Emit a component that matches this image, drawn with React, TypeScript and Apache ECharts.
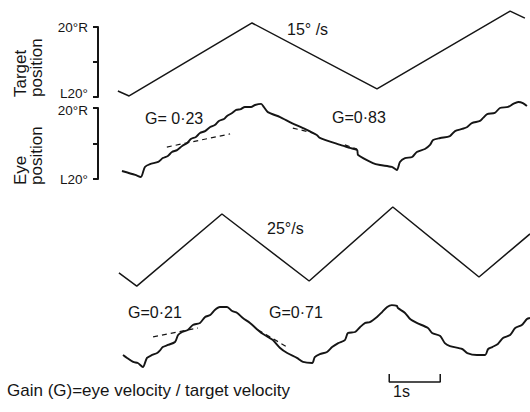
import React, { useEffect, useRef } from "react";
import * as echarts from "echarts";

// time axis (seconds) and degree scale
const X_MAX = 8.47;
const Y_TICKS: Record<string, string> = { "20": "20°R", "0": "", "-20": "L20°" };

// Target position, 15°/s
const TARGET15_T = [0.39, 0.61, 3.02, 5.47, 8.08, 8.37];
const TARGET15_DEG = [-16.6, -19.4, 22.3, -15.4, 29.1, 25.1];

// Eye position, 15°/s
const EYE15_T = [
  0.47, 0.73, 0.84, 0.92, 1.02, 1.18, 1.27, 1.37, 1.45, 1.55, 1.65, 1.75, 1.82, 1.92, 2.0, 2.1, 2.2,
  2.29, 2.37, 2.47, 2.53, 2.63, 2.71, 2.8, 2.88, 3.0, 3.08, 3.2, 3.25, 3.33, 3.57, 3.8, 4.02, 4.29,
  4.35, 4.75, 4.94, 5.08, 5.1, 5.39, 5.53, 5.76, 5.86, 5.92, 6.02, 6.16, 6.25, 6.41, 6.51, 6.57,
  6.71, 6.9, 7.0, 7.14, 7.24, 7.33, 7.49, 7.55, 7.63, 7.78, 7.88, 8.04, 8.14, 8.24, 8.33, 8.41,
];
const EYE15_DEG = [
  -15.5, -17.7, -18.9, -13.2, -11.6, -10.4, -8.2, -7.0, -4.8, -3.7, -1.4, 0.3, 2.5, 3.7, 5.9, 7.0,
  9.3, 10.4, 12.7, 13.8, 15.5, 17.2, 18.9, 19.4, 20.6, 20.6, 21.7, 22.3, 20.6, 17.7, 14.9, 11.5, 8.7,
  4.8, 3.1, -0.8, -2.5, -3.7, -6.5, -11.0, -12.1, -13.2, -14.9, -10.4, -8.2, -7.6, -4.8, -3.1, -0.8,
  2.0, 3.1, 4.2, 7.0, 8.2, 9.3, 11.5, 12.7, 14.4, 16.6, 17.2, 20.0, 20.6, 22.3, 23.4, 22.8, 21.1,
];
// dashed slow-phase fits (G = 0·23, G = 0·83)
const FIT15A_T = [1.35, 2.59];
const FIT15A_DEG = [-2.0, 5.4];
const FIT15B_T = [3.82, 4.22];
const FIT15B_DEG = [8.7, 5.9];
const FIT15C_T = [4.84, 5.08];
const FIT15C_DEG = [-0.8, -3.1];

// Target position, 25°/s
const TARGET25_T = [0.41, 0.76, 2.43, 4.14, 5.78, 7.47, 8.47];
const TARGET25_DEG = [-15.4, -22.9, 18.3, -20.0, 22.3, -17.7, 6.9];

// Eye position, 25°/s
const EYE25_T = [
  0.49, 0.57, 0.69, 0.78, 0.88, 0.96, 1.06, 1.16, 1.22, 1.27, 1.37, 1.51, 1.57, 1.65, 1.76, 1.86, 2.0,
  2.1, 2.2, 2.29, 2.39, 2.53, 2.63, 2.73, 2.84, 2.98, 3.18, 3.33, 3.43, 3.57, 3.71, 3.9, 4.02, 4.2,
  4.25, 4.35, 4.49, 4.59, 4.71, 4.84, 4.9, 5.04, 5.14, 5.24, 5.33, 5.47, 5.57, 5.67, 5.76, 5.86, 5.88,
  6.02, 6.12, 6.25, 6.47, 6.55, 6.71, 6.8, 6.9, 7.14, 7.24, 7.43, 7.59, 7.65, 7.73, 7.84, 7.94, 8.08,
  8.18, 8.31, 8.41, 8.47,
];
const EYE25_DEG = [
  -11.4, -13.1, -15.4, -16.0, -18.3, -13.1, -11.4, -10.3, -8.6, -6.9, -5.7, -4.0, 0.0, 1.7, 2.9, 5.7,
  6.9, 10.3, 11.4, 14.3, 16.0, 16.0, 13.7, 12.6, 9.7, 6.9, 1.7, -1.1, -2.9, -7.4, -10.3, -13.1, -15.4,
  -16.0, -12.6, -10.9, -9.7, -6.9, -4.6, -2.9, 1.1, 1.7, 4.6, 6.9, 7.4, 10.3, 13.1, 16.0, 17.1, 16.6,
  15.4, 12.6, 9.1, 6.9, 4.0, 1.1, -0.6, -4.6, -6.3, -8.0, -10.3, -11.4, -11.4, -8.0, -6.9, -5.1, -1.7,
  0.0, 4.0, 5.7, 9.1, 9.7,
];
// dashed slow-phase fits (G = 0·21, G = 0·71)
const FIT25A_T = [1.08, 1.96];
const FIT25A_DEG = [-1.1, 4.0];
const FIT25B_T = [3.14, 3.71];
const FIT25B_DEG = [2.9, -6.9];

// 1 s calibration bar
const SCALE_BAR_T = [5.71, 5.71, 6.71, 6.71];
const SCALE_BAR_V = [1, 0, 0, 1];

const FONT = "'Liberation Sans', Arial, sans-serif";
const INK = "#151515";

const pairs = (t: number[], v: number[]) => t.map((x, i) => [x, v[i]]);

export default function App() {
  const ref = useRef<HTMLDivElement>(null);
  useEffect(() => {
    if (!ref.current) return;
    const chart = echarts.init(ref.current, null, { renderer: "svg" });
    const gridDefs = [
      { top: 27, height: 70 },
      { top: 108, height: 71 },
      { top: 211, height: 70 },
      { top: 300, height: 70 },
      { top: 374, height: 8 },
    ];
    const grid = gridDefs.map((g) => ({ left: 98, width: 432, top: g.top, height: g.height }));
    const xAxis = gridDefs.map((_, i) => ({
      type: "value" as const,
      gridIndex: i,
      min: 0,
      max: X_MAX,
      show: false,
    }));
    const labelRich = {
      up: { fontSize: 13.5, fontFamily: FONT, color: INK, padding: [0, 0, 8, 0] },
      dn: { fontSize: 13.5, fontFamily: FONT, color: INK, padding: [4, 0, 0, 0] },
      n: { fontSize: 13.5, fontFamily: FONT, color: INK },
    };
    const visibleY = (i: number) => ({
      type: "value" as const,
      gridIndex: i,
      min: -20,
      max: 20,
      interval: 20,
      splitLine: { show: false },
      axisLine: { show: true, lineStyle: { color: INK, width: 2 } },
      axisTick: { show: true, inside: false, length: 5, lineStyle: { color: INK, width: 2 } },
      axisLabel: {
        show: true,
        margin: 10,
        color: INK,
        fontSize: 13.5,
        fontFamily: FONT,
        showMinLabel: true,
        showMaxLabel: true,
        rich: labelRich,
        formatter: (v: number) => {
          const s = Y_TICKS[String(v)] ?? "";
          if (!s) return "";
          if (i === 0 && v < 0) return `{up|${s}}`;
          if (i === 1 && v > 0) return `{dn|${s}}`;
          return `{n|${s}}`;
        },
      },
    });
    const hiddenY = (i: number, min: number, max: number) => ({
      type: "value" as const,
      gridIndex: i,
      min,
      max,
      show: false,
    });
    const yAxis = [visibleY(0), visibleY(1), hiddenY(2, -20, 20), hiddenY(3, -20, 20), hiddenY(4, 0, 1)];

    const line = (idx: number, data: number[][], width: number, smooth: number | boolean = false, dashed = false) => ({
      type: "line" as const,
      xAxisIndex: idx,
      yAxisIndex: idx,
      data,
      symbol: "none",
      clip: false,
      smooth,
      silent: true,
      lineStyle: { color: INK, width, type: dashed ? [5, 4] : "solid" },
    });

    const text = (t: string, x: number, y: number, size = 16) => ({
      type: "text" as const,
      x,
      y,
      style: { text: t, fill: INK, font: `${size}px ${FONT}`, textAlign: "left", textVerticalAlign: "middle" },
    });

    chart.setOption({
      animation: false,
      backgroundColor: "#ffffff",
      grid,
      xAxis,
      yAxis,
      series: [
        line(0, pairs(TARGET15_T, TARGET15_DEG), 1.5),
        line(1, pairs(EYE15_T, EYE15_DEG), 1.9, 0.25),
        line(1, pairs(FIT15A_T, FIT15A_DEG), 1.2, false, true),
        line(1, pairs(FIT15B_T, FIT15B_DEG), 1.2, false, true),
        line(1, pairs(FIT15C_T, FIT15C_DEG), 1.2, false, true),
        line(2, pairs(TARGET25_T, TARGET25_DEG), 1.5),
        line(3, pairs(EYE25_T, EYE25_DEG), 1.9, 0.25),
        line(3, pairs(FIT25A_T, FIT25A_DEG), 1.2, false, true),
        line(3, pairs(FIT25B_T, FIT25B_DEG), 1.2, false, true),
        line(4, pairs(SCALE_BAR_T, SCALE_BAR_V), 1.5),
      ],
      graphic: [
        {
          type: "text",
          x: 12,
          y: 97,
          rotation: Math.PI / 2,
          style: { text: "Target\nposition", fill: INK, font: `17px ${FONT}`, lineHeight: 16, textAlign: "left", textVerticalAlign: "top" },
        },
        {
          type: "text",
          x: 12,
          y: 185,
          rotation: Math.PI / 2,
          style: { text: "Eye\nposition", fill: INK, font: `17px ${FONT}`, lineHeight: 16, textAlign: "left", textVerticalAlign: "top" },
        },
        text("15° /s", 287, 29),
        text("G= 0·23", 145, 118),
        text("G=0·83", 332, 117),
        text("25°/s", 267, 228),
        text("G=0·21", 128, 312),
        text("G=0·71", 269, 312),
        text("Gain (G)=eye velocity / target velocity", 7, 390, 17),
        text("1s", 393, 391, 16),
      ],
    });
    return () => chart.dispose();
  }, []);
  return (
    <div
      ref={ref}
      style={{ position: "fixed", left: 0, top: 0, width: 530, height: 412, background: "#fff" }}
    />
  );
}
